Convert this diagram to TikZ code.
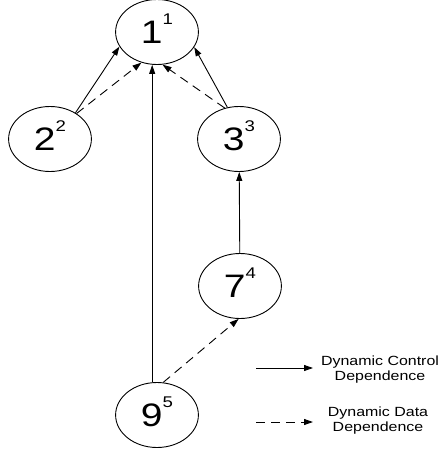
\documentclass[tikz,border=0pt]{standalone}
\usepackage{fontspec}
\setmainfont{Liberation Sans}
\usetikzlibrary{arrows.meta,shapes.geometric}
\newcommand{\stmt}[2]{#1\raisebox{19pt}[0pt][0pt]{\fontsize{15.5}{16}\selectfont #2}}

\begin{document}
\begin{tikzpicture}[x=1pt, y=-1pt, line width=0.9pt, -{Triangle[length=9pt,width=6pt]},
	vertex/.style={ellipse, draw, minimum width=69pt, minimum height=65pt, inner sep=0pt, font=\fontsize{32.5}{33}\selectfont, xscale=1.2, transform shape},
	legendtext/.style={align=center, font=\fontsize{13.3}{15}\selectfont, xscale=1.2, transform shape},
	datadep/.style={dash pattern=on 9pt off 6pt}]
	\useasboundingbox (0,0) rectangle (444,450);
	\node[vertex] (n1) at (157,32) {\stmt{1}{1}};
	\node[vertex] (n2) at (50,139) {\stmt{2}{2}};
	\node[vertex] (n3) at (239,139) {\stmt{3}{3}};
	\node[vertex] (n7) at (240,286) {\stmt{7}{4}};
	\node[vertex] (n9) at (157,415) {\stmt{9}{5}};
	\draw (n2.51) -- (n1.205);
	\draw[datadep] (n2.49) -- (n1.247);
	\draw (n3.107) -- (n1.334);
	\draw[datadep] (n3.111) -- (n1.278);
	\draw (n9.97) -- (n9.97 |- n1.south);
	\draw (n7) -- (n3);
	\draw[datadep] (n9.81) -- (n7.268);
	\coordinate (ctrlA) at (256,368);
	\coordinate (ctrlB) at (313,368);
	\coordinate (dataA) at (256,422);
	\coordinate (dataB) at (313,422);
	\draw (ctrlA) -- (ctrlB);
	\draw[datadep] (dataA) -- (dataB);
	\node[legendtext] (ctrltext) at (380,370) {Dynamic Control\\Dependence};
	\node[legendtext] (datatext) at (378,421) {Dynamic Data\\Dependence};
\end{tikzpicture}
\end{document}
